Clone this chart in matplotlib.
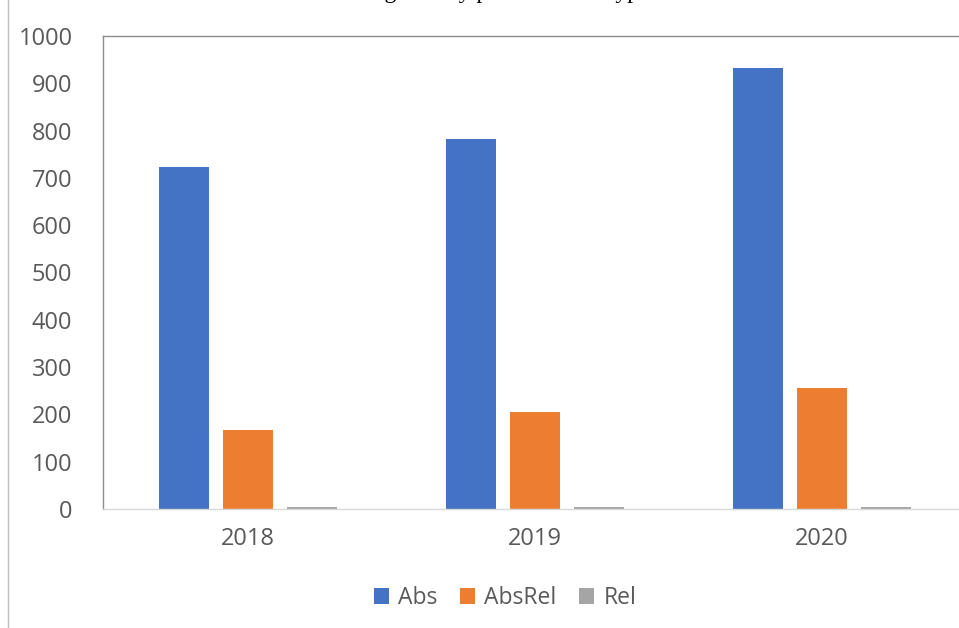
import numpy as np
import matplotlib.pyplot as plt
from matplotlib.lines import Line2D

years = ["2018", "2019", "2020"]
abs_vals = [724, 782, 932]
absrel_vals = [167, 205, 256]
rel_vals = [5, 5, 5]
series = ["Abs", "AbsRel", "Rel"]
colors = ["#4472C4", "#ED7D31", "#A5A5A5"]

plt.rcParams['font.family'] = ['Open Sans', 'DejaVu Sans']
grey = "#595959"

fig = plt.figure(figsize=(9.59, 6.28), dpi=100)
ax = fig.add_axes([103 / 959, 1 - 509 / 628, 1 - 103 / 959, (509 - 36) / 628])

x = np.arange(len(years))
w = 0.175
off = 0.222
for vals, name, c, d in zip([abs_vals, absrel_vals, rel_vals], series, colors, [-1, 0, 1]):
    ax.bar(x + d * off, vals, width=w, color=c, label=name)

ax.set_ylim(0, 1000)
ax.set_yticks(range(0, 1001, 100))
ax.set_xlim(-0.505, 2.477)
ax.set_xticks(x)
ax.set_xticklabels(years)
ax.tick_params(axis='both', length=0, labelsize=17, colors=grey)
ax.tick_params(axis='y', pad=22)
ax.tick_params(axis='x', pad=13)

ax.spines['right'].set_visible(False)
ax.spines['left'].set_color("#8c8c8c")
ax.spines['top'].set_color("#8c8c8c")
ax.spines['bottom'].set_color("#d9d9d9")
for s in ax.spines.values():
    s.set_linewidth(1.0)

# outer frame line on the left
fig.add_artist(Line2D([8 / 959, 8 / 959], [0, 1], transform=fig.transFigure, color="#bfbfbf", lw=1))

# title, mostly cut off by the top edge as in the source image
fig.text(0.525, 1 + 2 / 628, "Bug density per weakness type", ha='center', va='baseline',
         fontsize=17, family=['Liberation Serif', 'DejaVu Serif'], color="#000000")

leg = fig.legend(loc='center', bbox_to_anchor=(505 / 959, 1 - 598 / 628), ncol=3, frameon=False,
                 fontsize=16.5, handlelength=0.65, handleheight=0.65, handletextpad=0.4, columnspacing=1.0)
for t in leg.get_texts():
    t.set_color(grey)

fig.savefig("out.png", dpi=100)
